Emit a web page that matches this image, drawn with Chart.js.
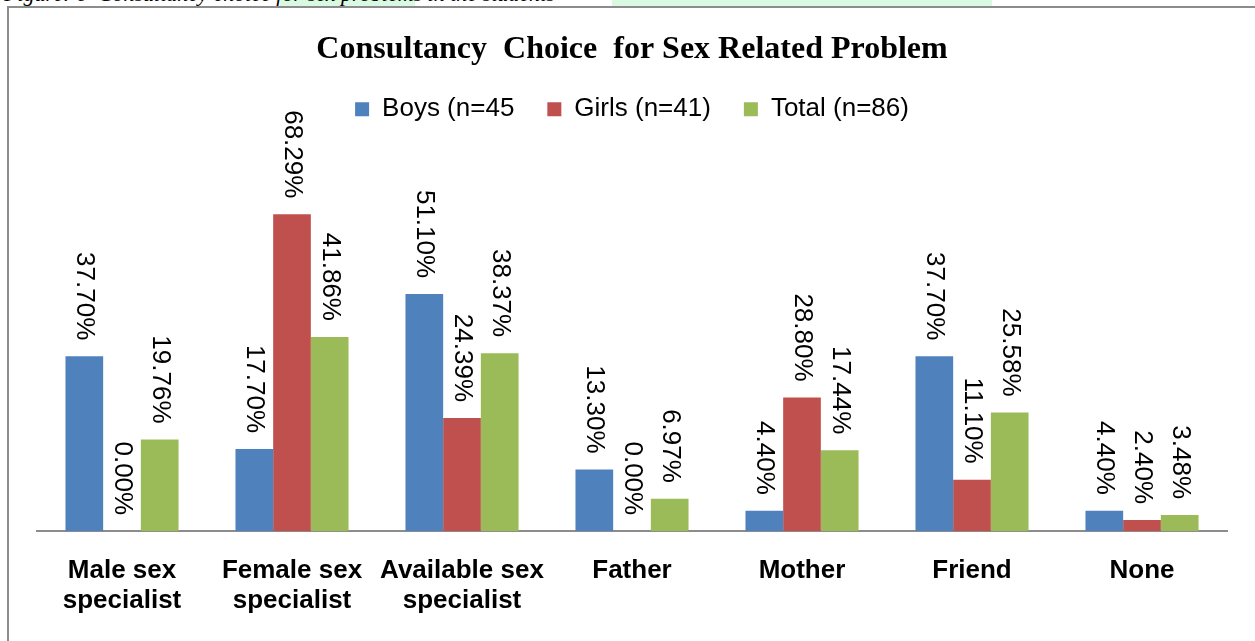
<!DOCTYPE html>
<html>
<head>
<meta charset="utf-8">
<title>Consultancy Choice for Sex Related Problem</title>
<script src="https://cdn.jsdelivr.net/npm/chart.js@4.4.0/dist/chart.umd.min.js"></script>
<style>
  html, body { margin: 0; padding: 0; background: #fff; overflow: hidden; }
  body { width: 1255px; height: 641px; position: relative; }
  #caption {
    position: absolute; left: 4px; top: -17px; white-space: pre;
    font: italic 22px/22px "Liberation Serif", "Times New Roman", serif; color: #000;
  }
  .mark { position: absolute; top: 0; height: 6px; background: #d9f9e2; }
  #frame {
    position: absolute; left: 7px; top: 6px; width: 1300px; height: 700px;
    border-left: 2px solid #8c8c8c; border-top: 2px solid #8c8c8c;
  }
  #chart { position: absolute; left: 0; top: 0; }
</style>
</head>
<body>
<div class="mark" style="left:280px;width:135px"></div>
<div class="mark" style="left:612px;width:380px"></div>
<div id="caption">Figure: 6  Consultancy choice for sex problems in the students</div>
<div id="frame"></div>
<canvas id="chart" width="1255" height="641"></canvas>
<script>
const categories = [
  ["Male sex", "specialist"],
  ["Female sex", "specialist"],
  ["Available sex", "specialist"],
  "Father",
  "Mother",
  "Friend",
  "None",
];
const seriesLabels = ["Boys (n=45", "Girls (n=41)", "Total (n=86)"];
const boysValues = [37.7, 17.7, 51.1, 13.3, 4.4, 37.7, 4.4];
const girlsValues = [0.0, 68.29, 24.39, 0.0, 28.8, 11.1, 2.4];
const totalValues = [19.76, 41.86, 38.37, 6.97, 17.44, 25.58, 3.48];
const seriesColors = ["#4f81bd", "#c0504d", "#9bbb59"];

const sansFont = "'Liberation Sans', Arial, sans-serif";
const serifFont = "'Liberation Serif', 'Times New Roman', serif";

// value labels written top to bottom above each bar
const rotatedLabels = {
  id: "rotatedLabels",
  afterDatasetsDraw(chart) {
    const { ctx } = chart;
    ctx.save();
    ctx.font = "26px " + sansFont;
    ctx.fillStyle = "#000";
    ctx.textAlign = "right";
    ctx.textBaseline = "middle";
    chart.data.datasets.forEach((dataset, i) => {
      chart.getDatasetMeta(i).data.forEach((bar, j) => {
        ctx.save();
        ctx.translate(bar.x, bar.y - 16);
        ctx.rotate(Math.PI / 2);
        ctx.fillText(dataset.data[j].toFixed(2) + "%", 0, 0);
        ctx.restore();
      });
    });
    ctx.restore();
  },
};

const chartCanvas = document.getElementById("chart");

new Chart(chartCanvas, {
  type: "bar",
  data: {
    labels: categories,
    datasets: [
      { label: seriesLabels[0], data: boysValues, backgroundColor: seriesColors[0] },
      { label: seriesLabels[1], data: girlsValues, backgroundColor: seriesColors[1] },
      { label: seriesLabels[2], data: totalValues, backgroundColor: seriesColors[2] },
    ],
  },
  options: {
    responsive: false,
    animation: false,
    devicePixelRatio: 1,
    categoryPercentage: 0.665,
    barPercentage: 1.0,
    layout: { padding: { left: 37, right: 28, top: 0, bottom: 0 } },
    plugins: {
      title: {
        display: true,
        text: "Consultancy  Choice  for Sex Related Problem",
        color: "#000",
        font: { family: serifFont, size: 32, weight: "bold", lineHeight: 0.85 },
        padding: { top: 36, bottom: 0 },
      },
      legend: {
        display: true,
        position: "top",
        labels: {
          color: "#000",
          font: { family: sansFont, size: 26 },
          boxWidth: 14,
          boxHeight: 14,
          padding: 33,
        },
      },
      tooltip: { enabled: false },
    },
    scales: {
      x: {
        grid: { display: false, drawTicks: false },
        border: { display: true, color: "#8c8c8c", width: 2 },
        ticks: {
          color: "#000",
          font: { family: sansFont, size: 26, weight: "bold", lineHeight: 1.15 },
          padding: 25,
          maxRotation: 0,
          autoSkip: false,
        },
      },
      y: { display: false, min: 0, max: 86 },
    },
  },
  plugins: [rotatedLabels],
});
</script>
</body>
</html>
